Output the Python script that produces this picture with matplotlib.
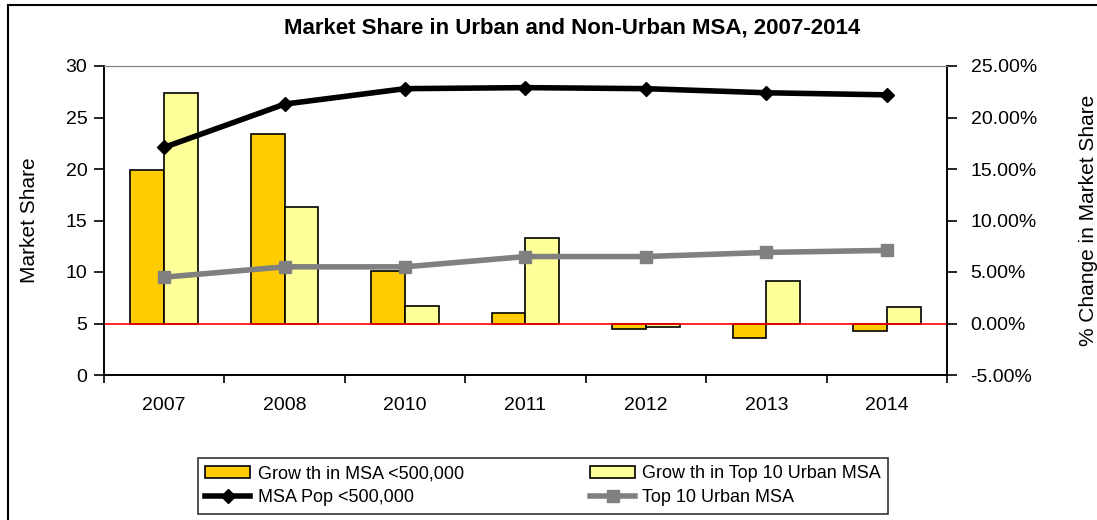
import numpy as np
import matplotlib
matplotlib.use("Agg")
from matplotlib import pyplot as plt
from matplotlib.ticker import FuncFormatter

plt.rcParams['font.family'] = ['Liberation Sans', 'DejaVu Sans']

# data
years = ['2007', '2008', '2010', '2011', '2012', '2013', '2014']
growth_small = [14.9, 18.4, 5.1, 1.0, -0.5, -1.4, -0.7]   # % change, MSA <500,000
growth_top10 = [22.4, 11.3, 1.7, 8.3, -0.3, 4.1, 1.6]     # % change, top 10 urban
share_small = [22.1, 26.3, 27.8, 27.9, 27.8, 27.4, 27.2]
share_top10 = [9.5, 10.5, 10.5, 11.5, 11.5, 11.9, 12.1]

fig = plt.figure(figsize=(10.97, 5.2), dpi=100)
ax = fig.add_axes([104/1097, 1-375/520, 843/1097, 309/520])
ax2 = ax.twinx()

x = np.arange(len(years))
w = 0.28
ax2.bar(x - w/2, growth_small, w, color='#FFCC00', edgecolor='black', linewidth=1.2,
        label='Grow th in MSA <500,000')
ax2.bar(x + w/2, growth_top10, w, color='#FFFF99', edgecolor='black', linewidth=1.2,
        label='Grow th in Top 10 Urban MSA')
ax2.axhline(0, color='red', linewidth=1.2, zorder=3)
ax2.set_ylim(-5, 25)
ax2.set_yticks(np.arange(-5, 26, 5))
ax2.yaxis.set_major_formatter(FuncFormatter(lambda v, p: '%.2f%%' % v))
ax2.set_ylabel('% Change in Market Share', fontsize=15)
ax2.yaxis.set_label_coords((1079 - 104) / 843, 0.5)

# lines drawn on top of the bars
ax.set_zorder(ax2.get_zorder() + 1)
ax.patch.set_visible(False)
ax.plot(x, share_small, color='black', linewidth=4, marker='D', markersize=7,
        label='MSA Pop <500,000')
ax.plot(x, share_top10, color='#808080', linewidth=4, marker='s', markersize=8,
        label='Top 10 Urban MSA')
ax.set_ylim(0, 30)
ax.set_yticks(np.arange(0, 31, 5))
ax.set_xlim(-0.5, len(years) - 0.5)
ax.set_xticks(x)
ax.set_xticklabels(years)
ax.set_xticks(np.arange(-0.5, len(years), 1), minor=True)
ax.tick_params(axis='x', which='major', length=0, pad=16, labelsize=14)
ax.tick_params(axis='x', which='minor', length=6, direction='out', width=1.2)
ax.tick_params(axis='y', length=7, width=1.2, labelsize=14, pad=5)
ax2.tick_params(axis='y', length=7, width=1.2, labelsize=14, pad=10)
ax.set_ylabel('Market Share', fontsize=15)
ax.yaxis.set_label_coords((39 - 104) / 843, 0.5)

for a in (ax, ax2):
    a.spines['top'].set_color('#808080')
    for s in ('left', 'right', 'bottom'):
        a.spines[s].set_linewidth(1.2)

fig.text(572/1097, 1-28/520, 'Market Share in Urban and Non-Urban MSA, 2007-2014',
         ha='center', va='center', fontsize=16, fontweight='bold')

h2, l2 = ax2.get_legend_handles_labels()
h1, l1 = ax.get_legend_handles_labels()
handles = [h2[0], h1[0], h2[1], h1[1]]
labels = [l2[0], l1[0], l2[1], l1[1]]
leg = fig.legend(handles, labels, ncol=2, loc='upper left',
                 bbox_to_anchor=(198/1097, 1-458/520), borderaxespad=0, fontsize=13,
                 frameon=True, fancybox=False, edgecolor='black',
                 handlelength=2.5, handletextpad=0.4, columnspacing=7,
                 borderpad=0.4, labelspacing=0.4)
leg.get_frame().set_linewidth(1.2)

# outer chart border (runs off the right and bottom of the image)
fig.patches.append(plt.Rectangle((8/1097, -0.05), 1.1, 1-5/520 + 0.05,
                                 transform=fig.transFigure, fill=False,
                                 edgecolor='black', linewidth=1.5))

fig.savefig('out.png', dpi=100)
